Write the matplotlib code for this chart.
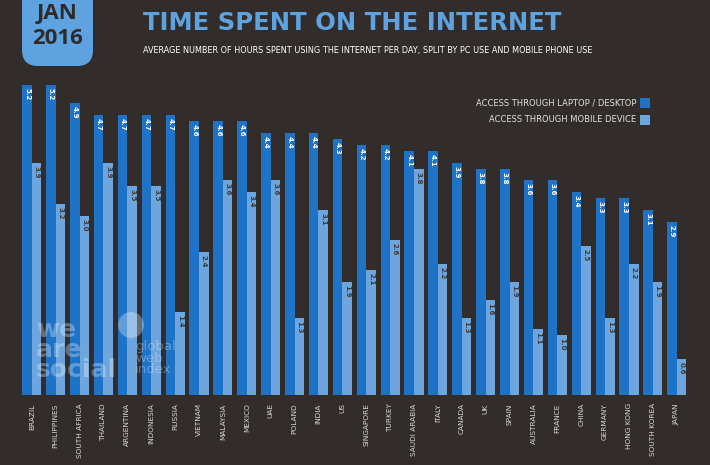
import numpy as np
import matplotlib.pyplot as plt
from matplotlib.patches import FancyBboxPatch, Rectangle

countries = ["BRAZIL", "PHILIPPINES", "SOUTH AFRICA", "THAILAND", "ARGENTINA",
             "INDONESIA", "RUSSIA", "VIETNAM", "MALAYSIA", "MEXICO", "UAE",
             "POLAND", "INDIA", "US", "SINGAPORE", "TURKEY", "SAUDI ARABIA",
             "ITALY", "CANADA", "UK", "SPAIN", "AUSTRALIA", "FRANCE", "CHINA",
             "GERMANY", "HONG KONG", "SOUTH KOREA", "JAPAN"]
desktop = [5.2, 5.2, 4.9, 4.7, 4.7, 4.7, 4.7, 4.6, 4.6, 4.6, 4.4, 4.4, 4.4, 4.3,
           4.2, 4.2, 4.1, 4.1, 3.9, 3.8, 3.8, 3.6, 3.6, 3.4, 3.3, 3.3, 3.1, 2.9]
mobile = [3.9, 3.2, 3.0, 3.9, 3.5, 3.5, 1.4, 2.4, 3.6, 3.4, 3.6, 1.3, 3.1, 1.9,
          2.1, 2.6, 3.8, 2.2, 1.3, 1.6, 1.9, 1.1, 1.0, 2.5, 1.3, 2.2, 1.9, 0.6]

BG = "#322d2b"
DARK_BLUE = "#1f73c6"
LIGHT_BLUE = "#6ea5dc"
TITLE_BLUE = "#5fa2e0"

fig = plt.figure(figsize=(7.1, 4.65), dpi=100, facecolor=BG)
ax = fig.add_axes([0.028, 0.1505, 0.942, 0.705])
ax.set_facecolor(BG)

x = np.arange(len(countries))
w = 0.40
b1 = ax.bar(x - w / 2, desktop, w, color=DARK_BLUE)
b2 = ax.bar(x + w / 2, mobile, w, color=LIGHT_BLUE)

for rect, v in zip(b1, desktop):
    ax.text(rect.get_x() + rect.get_width() / 2, v - 0.05, f"{v:.1f}",
            rotation=-90, ha="center", va="top", fontsize=5, color="white",
            fontweight="bold")
for rect, v in zip(b2, mobile):
    ax.text(rect.get_x() + rect.get_width() / 2, v - 0.05, f"{v:.1f}",
            rotation=-90, ha="center", va="top", fontsize=5, color="#3a3a3a",
            fontweight="bold")

ax.set_xlim(-0.5, len(countries) - 0.5)
ax.set_ylim(0, 5.5)
ax.set_xticks(x)
ax.set_xticklabels(countries, rotation=90, fontsize=5.3, color="#d8d8d8",
                   family="Liberation Sans Narrow")
ax.tick_params(axis="x", length=0, pad=6)
ax.set_yticks([])
for s in ax.spines.values():
    s.set_visible(False)

# date badge (pixel coords, origin bottom-left)
badge = FancyBboxPatch((22, 465 - 66), 71, 90,
                       boxstyle="round,pad=0,rounding_size=16",
                       transform=None, facecolor=TITLE_BLUE, edgecolor="none")
fig.patches.append(badge)
fig.text(57.5 / 710, 1 - 14 / 465, "JAN", ha="center", va="center",
         fontsize=16, fontweight="bold", color="#2f2b2a", family="Open Sans")
fig.text(57.5 / 710, 1 - 39 / 465, "2016", ha="center", va="center",
         fontsize=16, fontweight="bold", color="#2f2b2a", family="Open Sans")

fig.text(143 / 710, 1 - 23 / 465, "TIME SPENT ON THE INTERNET", ha="left",
         va="center", fontsize=17.5, fontweight="bold", color=TITLE_BLUE,
         family="Liberation Sans Narrow")
fig.text(143 / 710, 1 - 50 / 465,
         "AVERAGE NUMBER OF HOURS SPENT USING THE INTERNET PER DAY, SPLIT BY PC USE AND MOBILE PHONE USE",
         ha="left", va="center", fontsize=5.9, color="white",
         family="Liberation Sans Narrow")

# legend
for label, col, yy in [("ACCESS THROUGH LAPTOP / DESKTOP", DARK_BLUE, 103),
                       ("ACCESS THROUGH MOBILE DEVICE", LIGHT_BLUE, 120)]:
    fig.text(636 / 710, 1 - yy / 465, label, ha="right", va="center",
             fontsize=6, color="#e0e0e0")
    fig.patches.append(Rectangle((640, 465 - yy - 5), 10, 10, transform=None,
                                 facecolor=col, edgecolor="none"))

# faint logos
fig.text(36 / 710, 1 - 350 / 465, "we\nare\nsocial", ha="left", va="center",
         fontsize=18, fontweight="bold", color="white", alpha=0.3,
         linespacing=0.8)
fig.text(135 / 710, 1 - 358 / 465, "global\nweb\nindex", ha="left", va="center",
         fontsize=9.5, color="white", alpha=0.3, linespacing=0.85)
fig.patches.append(plt.Circle((131, 465 - 325), 13, transform=None,
                              facecolor="white", alpha=0.3, edgecolor="none"))

fig.savefig("out.png", dpi=100, facecolor=BG)
